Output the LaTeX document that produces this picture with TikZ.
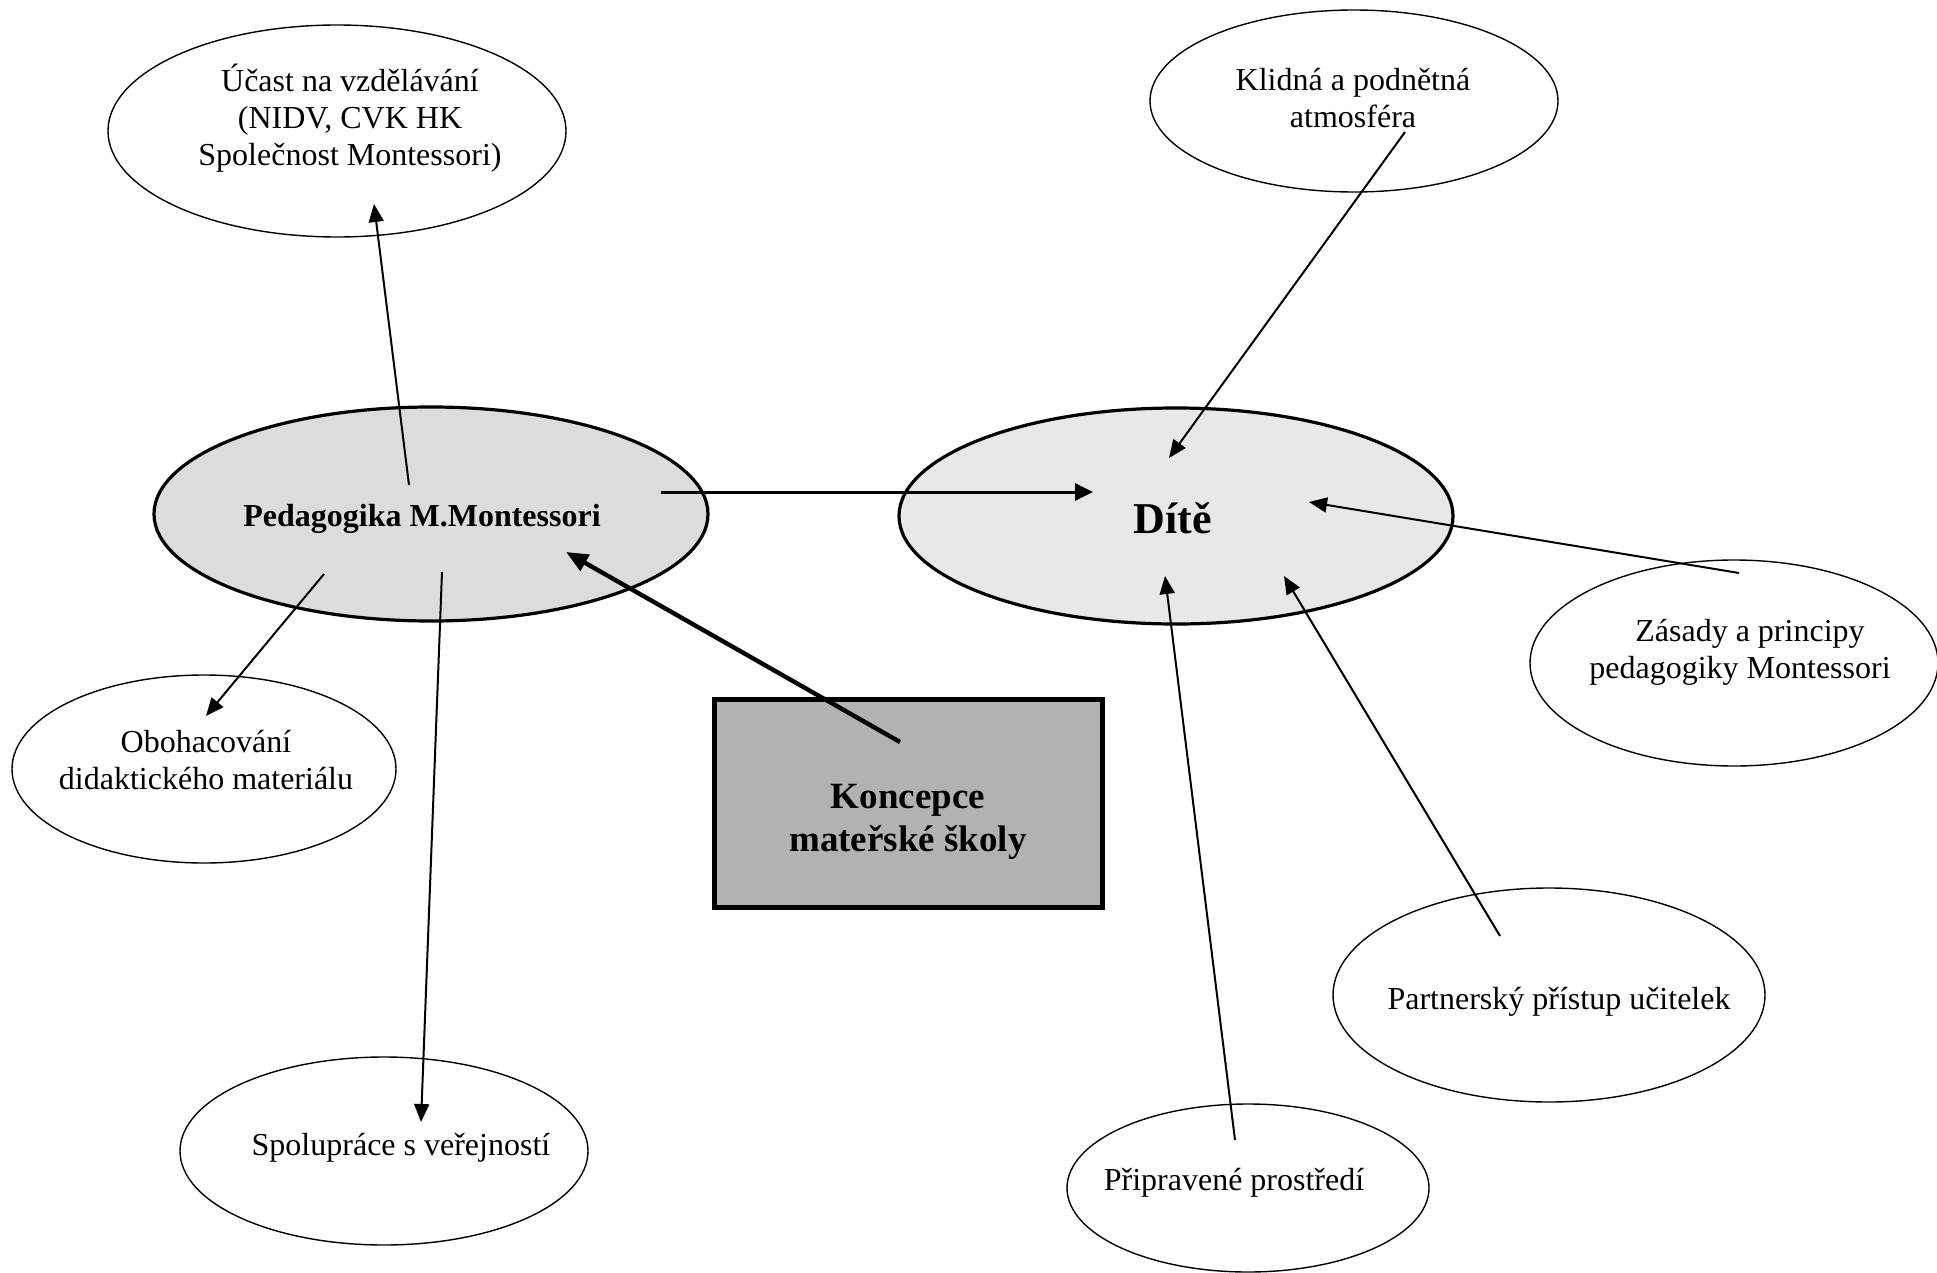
\documentclass[tikz,border=0pt]{standalone}
\usepackage{fontspec}
\setmainfont{Liberation Serif}
\usetikzlibrary{shapes.geometric,arrows.meta}

\definecolor{pedfill}{RGB}{220,220,220}
\definecolor{ditefill}{RGB}{232,232,232}
\definecolor{boxfill}{RGB}{178,178,178}

\tikzset{
  bubble/.style={ellipse, draw, line width=0.7pt, inner sep=0pt},
  hub/.style={ellipse, draw, line width=1.6pt, inner sep=0pt},
  txt/.style={align=center, inner sep=0pt, font=\fontsize{16}{18.5}\selectfont},
  link/.style={line width=1pt, -{Triangle[length=9pt,width=7.5pt]}},
}

\begin{document}
\begin{tikzpicture}[x=0.5pt,y=-0.5pt]
  \useasboundingbox (0,0) rectangle (1937,1273);

  \node[hub, fill=pedfill, minimum width=277pt, minimum height=107pt] (ped) at (431,514) {};
  \node[hub, fill=ditefill, minimum width=277pt, minimum height=108pt] (dite) at (1176,516) {};
  \node[draw, fill=boxfill, line width=2.5pt, minimum width=194pt, minimum height=104pt, inner sep=0pt] (konc) at (908,803) {};

  \node[bubble, minimum width=229pt, minimum height=106pt] (ucast) at (337,131) {};
  \node[bubble, minimum width=204pt, minimum height=91pt] (klid) at (1354,101) {};
  \node[bubble, minimum width=204pt, minimum height=103pt] (zas) at (1734,663) {};
  \node[bubble, minimum width=192pt, minimum height=94pt] (oboh) at (204,769) {};
  \node[bubble, minimum width=204pt, minimum height=94pt] (spol) at (384,1151) {};
  \node[bubble, minimum width=216pt, minimum height=107pt] (partn) at (1549,995) {};
  \node[bubble, minimum width=181pt, minimum height=84pt] (pripr) at (1248,1188) {};

  \node[txt, font=\fontsize{16}{18.5}\selectfont\bfseries] (pedtxt) at (422,519) {Pedagogika M.Montessori};
  \node[txt, font=\fontsize{22}{25}\selectfont\bfseries] (ditetxt) at (1173,518) {Dítě};
  \node[txt, font=\fontsize{18.5}{21.5}\selectfont\bfseries] (konctxt) at (908,822) {Koncepce\\mateřské školy};
  \node[txt] (ucasttxt) at (350,118) {Účast na vzdělávání\\(NIDV, CVK HK\\Společnost Montessori)};
  \node[txt] (klidtxt) at (1353,98) {Klidná a podnětná\\atmosféra};
  \node[txt] (zastxt) at (1740,652) {\hspace*{10pt}Zásady a principy\\pedagogiky Montessori};
  \node[txt] (obohtxt) at (206,760) {Obohacování\\didaktického materiálu};
  \node[txt] (spoltxt) at (401,1148) {Spolupráce s veřejností};
  \node[txt] (partntxt) at (1559,1002) {Partnerský přístup učitelek};
  \node[txt] (priprtxt) at (1234,1183) {Připravené prostředí};

  % arrow ends
  \coordinate (ped-up) at (409,485);
  \coordinate (ucast-in) at (374,204);
  \coordinate (ped-dl) at (324,574);
  \coordinate (oboh-in) at (206,716);
  \coordinate (ped-dn) at (442,572);
  \coordinate (spol-in) at (421,1122);
  \coordinate (ped-rt) at (661,492);
  \coordinate (dite-lt) at (1093,492);
  \coordinate (konc-out) at (900,742);
  \coordinate (ped-in) at (566,552);
  \coordinate (klid-out) at (1405,132);
  \coordinate (dite-up) at (1169,458);
  \coordinate (zas-out) at (1739,573);
  \coordinate (dite-rt) at (1309,502);
  \coordinate (partn-out) at (1500,936);
  \coordinate (dite-dr) at (1284,576);
  \coordinate (pripr-out) at (1235,1140);
  \coordinate (dite-dn) at (1165,576);

  \draw[link] (ped-up) -- (ucast-in);
  \draw[link] (ped-dl) -- (oboh-in);
  \draw[link] (ped-dn) -- (spol-in);
  \draw[line width=1.5pt, -{Triangle[length=9pt,width=8.5pt]}] (ped-rt) -- (dite-lt);
  \draw[line width=2.2pt, -{Triangle[length=11pt,width=9pt]}] (konc-out) -- (ped-in);
  \draw[link] (klid-out) -- (dite-up);
  \draw[link] (zas-out) -- (dite-rt);
  \draw[link] (partn-out) -- (dite-dr);
  \draw[link] (pripr-out) -- (dite-dn);
\end{tikzpicture}
\end{document}
